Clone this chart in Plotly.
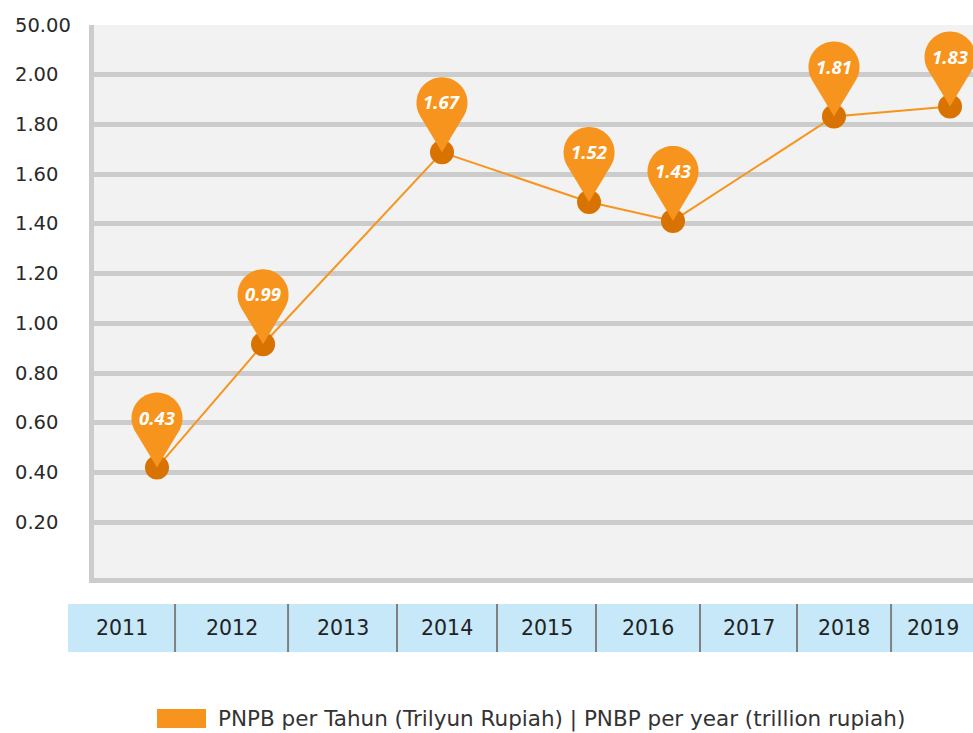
import numpy as np
import plotly.graph_objects as go

# ---- data ----
years = [2011, 2012, 2014, 2015, 2016, 2018, 2019]
x_pos = [2011.383, 2012.435, 2014.210, 2015.669, 2016.502, 2018.099, 2019.250]
values = [0.42, 0.916, 1.688, 1.488, 1.412, 1.832, 1.872]
labels = ["0.43", "0.99", "1.67", "1.52", "1.43", "1.81", "1.83"]

band_years = ["2011", "2012", "2013", "2014", "2015", "2016", "2017", "2018", "2019"]
band_edges = [2010.5, 2011.562, 2012.683, 2013.764, 2014.756, 2015.738,
              2016.770, 2017.732, 2018.665, 2019.6]

y_ticks = [0.2, 0.4, 0.6, 0.8, 1.0, 1.2, 1.4, 1.6, 1.8, 2.0, 2.2]
y_tick_text = ["0.20", "0.40", "0.60", "0.80", "1.00", "1.20", "1.40",
               "1.60", "1.80", "2.00", "50.00"]

legend_text = "PNPB per Tahun (Trilyun Rupiah) | PNBP per year (trillion rupiah)"

# ---- styles ----
ORANGE = "#f7941d"
DARK = "#d87200"
GRID = "#cccccc"
BG = "#f1f2f1"
BAND = "#c6e8f8"
FONT = "DejaVu Sans"

X_RANGE = [2010.758, 2019.478]
Y_RANGE = [-0.024, 2.2]

PLOT_W = 879
PLOT_H = 553


def to_paper_x(v):
    return (v - X_RANGE[0]) / (X_RANGE[1] - X_RANGE[0])


fig = go.Figure()
fig.add_trace(go.Scatter(
    x=x_pos, y=values, mode="lines+markers",
    line=dict(color=ORANGE, width=2),
    marker=dict(size=24, color=DARK),
    showlegend=False, hoverinfo="skip",
))

# pin shape geometry (pixels relative to the data point)
R = 25.5
C = 49.5
ang = np.arcsin(R / C)
a_r = np.arctan2(-R * np.sin(ang), R * np.cos(ang))  # right tangent point
a_l = np.pi - a_r
arc = np.linspace(a_r, a_l, 60)
pts = [(0.0, 0.0)] + [(R * np.cos(a), C + R * np.sin(a)) for a in arc]
pin_path = "M " + " L ".join(f"{px:.2f},{py:.2f}" for px, py in pts) + " Z"

shapes = []
annotations = []
for xv, yv, lab in zip(x_pos, values, labels):
    shapes.append(dict(
        type="path", xref="x", yref="y", xsizemode="pixel", ysizemode="pixel",
        xanchor=xv, yanchor=yv, path=pin_path,
        fillcolor=ORANGE, line=dict(width=0), layer="above",
    ))
    annotations.append(dict(
        x=xv, y=yv, xref="x", yref="y", text=lab, showarrow=False,
        xanchor="center", yanchor="middle",
        yshift=C + 1, font=dict(family="Open Sans", size=18.5, color="white",
                                weight="bold", style="italic"),
    ))

# y tick labels, left aligned
for tv, tt in zip(y_ticks, y_tick_text):
    annotations.append(dict(
        x=(13 - 94) / PLOT_W, y=tv, xref="paper", yref="y", text=tt,
        xanchor="left", yanchor="middle", showarrow=False,
        font=dict(family=FONT, size=19.5, color="#2a2a2a"),
    ))

# category band
band_top = (578 - 604) / PLOT_H
band_bot = (578 - 652) / PLOT_H
for i, yr in enumerate(band_years):
    x0 = to_paper_x(band_edges[i])
    x1 = to_paper_x(band_edges[i + 1])
    shapes.append(dict(type="rect", xref="paper", yref="paper",
                       x0=x0, x1=x1, y0=band_bot, y1=band_top,
                       fillcolor=BAND, line=dict(width=0), layer="below"))
    xc = (x0 + x1) / 2 if i < len(band_years) - 1 else (x0 + to_paper_x(2019.5)) / 2
    annotations.append(dict(
        x=xc, y=(band_top + band_bot) / 2, xref="paper", yref="paper", text=yr,
        showarrow=False, xanchor="center", yanchor="middle",
        font=dict(family=FONT, size=20.5, color="#222222"),
    ))
    if i > 0:
        shapes.append(dict(type="line", xref="paper", yref="paper",
                           x0=x0, x1=x0, y0=band_bot, y1=band_top,
                           line=dict(color="#808080", width=2)))

# legend
shapes.append(dict(type="rect", xref="paper", yref="paper",
                   x0=(157 - 94) / PLOT_W, x1=(206 - 94) / PLOT_W,
                   y0=(578 - 728) / PLOT_H, y1=(578 - 709) / PLOT_H,
                   fillcolor=ORANGE, line=dict(width=0)))
annotations.append(dict(
    x=(216 - 94) / PLOT_W, y=(578 - 719) / PLOT_H, xref="paper", yref="paper",
    text=legend_text, showarrow=False, xanchor="left", yanchor="middle",
    font=dict(family=FONT, size=21.5, color="#333333"),
))

fig.update_layout(
    width=973, height=733,
    margin=dict(l=94, r=0, t=25, b=155),
    plot_bgcolor=BG, paper_bgcolor="white",
    xaxis=dict(range=X_RANGE, showgrid=False, zeroline=False,
               showline=True, linewidth=5, linecolor=GRID,
               showticklabels=False, ticks="", fixedrange=True),
    yaxis=dict(range=Y_RANGE, tickvals=y_ticks, showgrid=True,
               gridcolor=GRID, gridwidth=5, zeroline=False,
               showline=True, linewidth=5, linecolor=GRID,
               showticklabels=False, ticks="", fixedrange=True),
    shapes=shapes, annotations=annotations,
    showlegend=False,
)

# place the figure at the page's top-left corner (remove default body margin)
fig.write_html(
    "out.html",
    config={"displayModeBar": False},
    post_script="document.body.style.margin='0px';document.body.style.overflow='hidden';",
)
